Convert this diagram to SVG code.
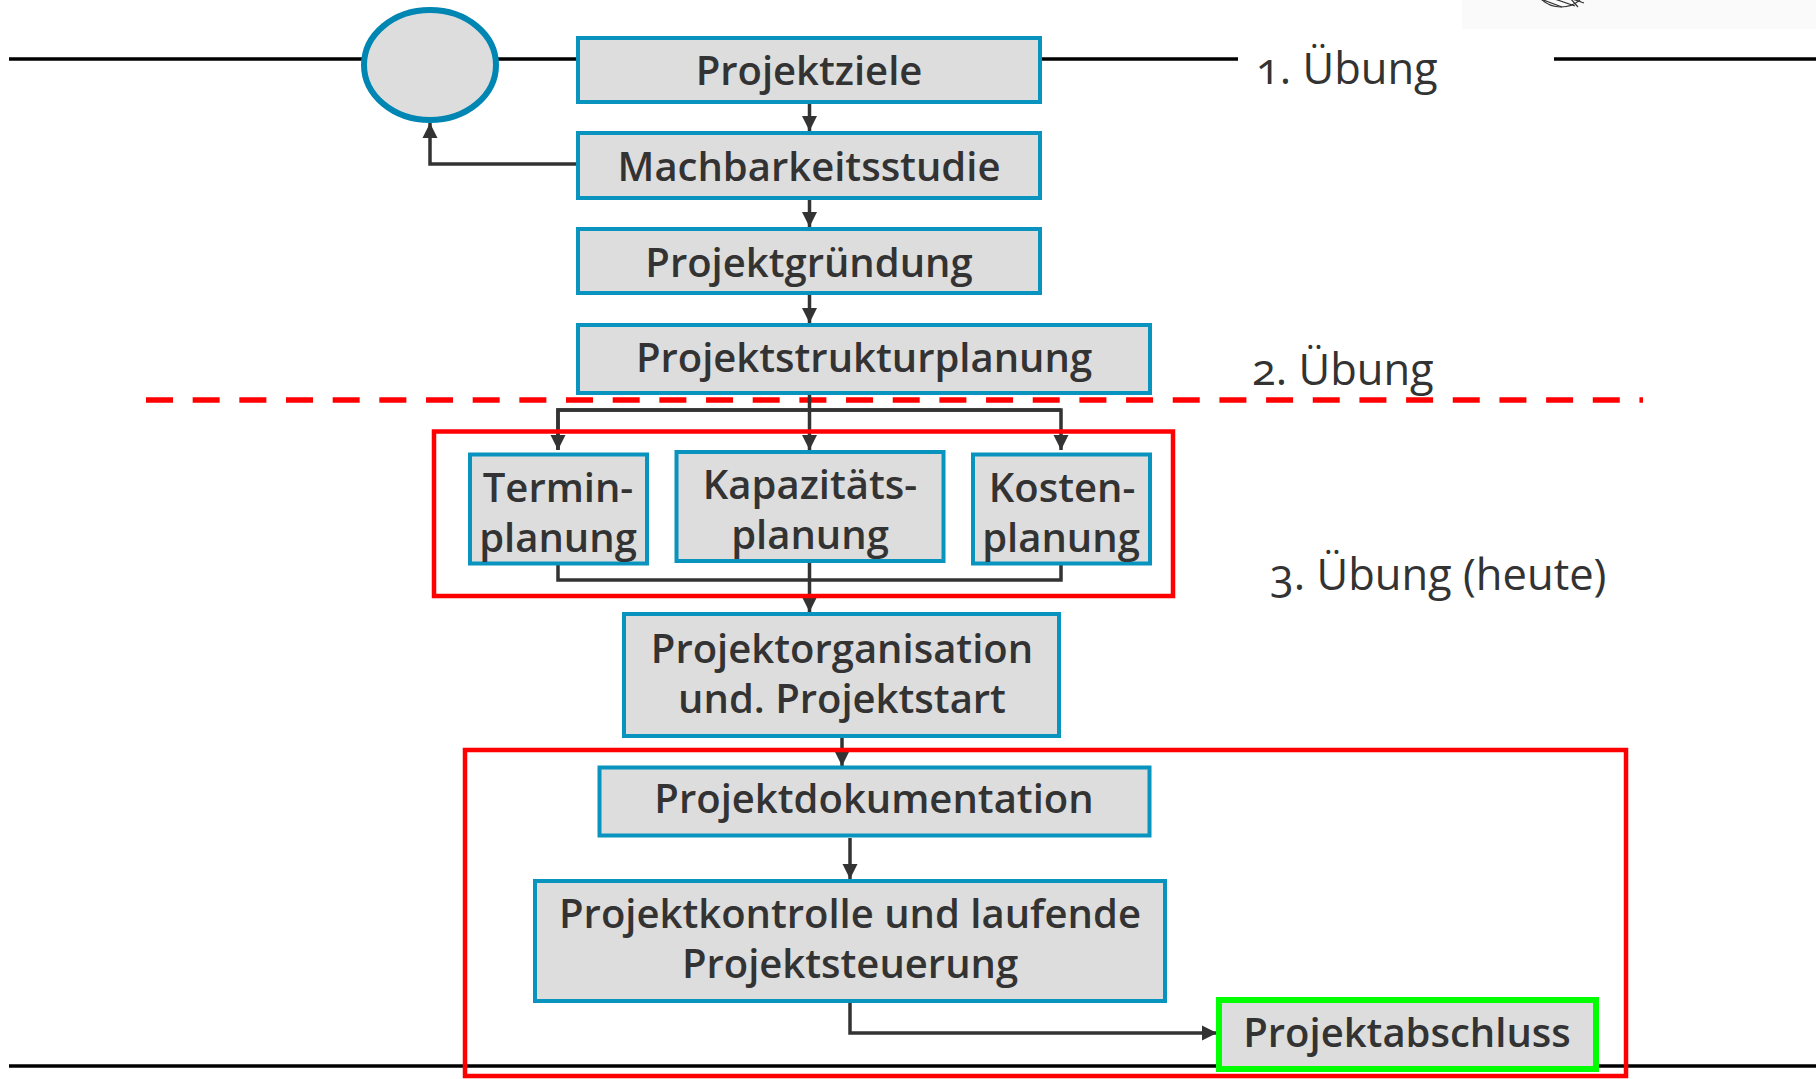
<svg xmlns="http://www.w3.org/2000/svg" width="1816" height="1079" viewBox="0 0 1816 1079">
  <style>
    .node rect { fill: #dddddd; stroke: #0894be; stroke-width: 4; }
    .node text { font-family: "Open Sans", "Noto Sans", "Liberation Sans", sans-serif; font-size: 40px; font-weight: 600; fill: #333333; text-anchor: middle; }
    .label { font-family: "Open Sans", "Noto Sans", "Liberation Sans", sans-serif; font-size: 43.5px; font-weight: 400; fill: #333333; font-variant-numeric: oldstyle-nums; }
    .rule { stroke: #000000; stroke-width: 3.5; fill: none; }
    .conn { stroke: #333333; stroke-width: 3.5; fill: none; }
    .frame { stroke: #ff0000; stroke-width: 4.5; fill: none; }
  </style>
  <defs>
    <marker id="arrow" markerUnits="userSpaceOnUse" markerWidth="16" markerHeight="16" viewBox="0 0 16 16" refX="15" refY="8" orient="auto">
      <path d="M0,0.5 L15,8 L0,15.5 Z" fill="#333333"/>
    </marker>
    <clipPath id="logoClip">
      <rect x="1462" y="0" width="354" height="29"/>
    </clipPath>
  </defs>

  <!-- header strip with the lower rim of the emblem -->
  <g id="header-emblem">
    <rect x="1462" y="0" width="354" height="29" fill="#fafafa"/>
    <g clip-path="url(#logoClip)" stroke="#333333" stroke-width="1.2" fill="none">
      <circle cx="1561" cy="-22" r="29"/>
      <path d="M1538,-2 L1562,7 M1546,-4 L1575,6 M1552,-8 L1584,3 M1570,-2 L1578,7"/>
    </g>
  </g>

  <!-- horizontal rules -->
  <g id="rules">
    <line class="rule" x1="9" y1="59" x2="1238" y2="59"/>
    <line class="rule" x1="1554" y1="59" x2="1816" y2="59"/>
    <line class="rule" x1="9" y1="1066" x2="1816" y2="1066"/>
    <line x1="146" y1="400" x2="1643" y2="400" stroke="#ff0000" stroke-width="5.5" stroke-dasharray="27 19.67"/>
  </g>

  <!-- exercise labels -->
  <g id="labels">
    <text class="label" x="1256" y="84">1. Übung</text>
    <text class="label" x="1252" y="385">2. Übung</text>
    <text class="label" x="1270" y="590">3. Übung (heute)</text>
  </g>

  <!-- connectors -->
  <g id="connectors">
    <line class="conn" x1="809.5" y1="104" x2="809.5" y2="131" marker-end="url(#arrow)"/>
    <line class="conn" x1="809.5" y1="200" x2="809.5" y2="227" marker-end="url(#arrow)"/>
    <line class="conn" x1="809.5" y1="295" x2="809.5" y2="323" marker-end="url(#arrow)"/>
    <path class="conn" d="M576,164 H430 V123" marker-end="url(#arrow)"/>
    <line class="conn" x1="809.5" y1="395" x2="809.5" y2="450" marker-end="url(#arrow)"/>
    <path class="conn" d="M558,450 V410 H1061 V450" marker-end="url(#arrow)"/>
    <path class="conn" d="M1061,410 H558 V450" marker-end="url(#arrow)"/>
    <path class="conn" d="M558,562 V580 H1061 V562"/>
    <line class="conn" x1="809.5" y1="562" x2="809.5" y2="612" marker-end="url(#arrow)"/>
    <line class="conn" x1="842" y1="737" x2="842" y2="766" marker-end="url(#arrow)"/>
    <line class="conn" x1="850" y1="838" x2="850" y2="879" marker-end="url(#arrow)"/>
    <path class="conn" d="M850,1003 V1033 H1217" marker-end="url(#arrow)"/>
  </g>

  <!-- start / feedback ellipse -->
  <g id="start">
    <ellipse cx="430" cy="65" rx="66" ry="55" fill="#dddddd" stroke="#0086b3" stroke-width="6"/>
  </g>

  <g id="projektziele" class="node">
    <rect x="578" y="38" width="462" height="64"/>
    <text x="809" y="85">Projektziele</text>
  </g>
  <g id="machbarkeitsstudie" class="node">
    <rect x="578" y="133" width="462" height="65"/>
    <text x="809" y="181">Machbarkeitsstudie</text>
  </g>
  <g id="projektgruendung" class="node">
    <rect x="578" y="229" width="462" height="64"/>
    <text x="809" y="277">Projektgründung</text>
  </g>
  <g id="projektstrukturplanung" class="node">
    <rect x="578" y="325" width="572" height="68"/>
    <text x="864" y="372">Projektstrukturplanung</text>
  </g>
  <g id="terminplanung" class="node">
    <rect x="470" y="454.5" width="177" height="109"/>
    <text x="558" y="502">Termin-</text>
    <text x="558" y="552">planung</text>
  </g>
  <g id="kapazitaetsplanung" class="node">
    <rect x="676.5" y="452" width="267" height="109"/>
    <text x="810" y="499">Kapazitäts-</text>
    <text x="810" y="549">planung</text>
  </g>
  <g id="kostenplanung" class="node">
    <rect x="973" y="454.5" width="177" height="109"/>
    <text x="1062" y="502">Kosten-</text>
    <text x="1061" y="552">planung</text>
  </g>
  <g id="projektorganisation" class="node">
    <rect x="624" y="614" width="435" height="122"/>
    <text x="842" y="663">Projektorganisation</text>
    <text x="842" y="713">und. Projektstart</text>
  </g>
  <g id="projektdokumentation" class="node">
    <rect x="599.5" y="767.5" width="550" height="68"/>
    <text x="874" y="813">Projektdokumentation</text>
  </g>
  <g id="projektkontrolle" class="node">
    <rect x="535" y="881" width="630" height="120"/>
    <text x="850" y="928">Projektkontrolle und laufende</text>
    <text x="850" y="978">Projektsteuerung</text>
  </g>
  <g id="projektabschluss" class="node">
    <rect x="1219" y="1000" width="377" height="69" style="stroke:#00ff00; stroke-width:6"/>
    <text x="1407" y="1047">Projektabschluss</text>
  </g>

  <!-- red phase frames -->
  <g id="frames">
    <rect class="frame" x="434" y="431.5" width="739" height="164.5"/>
    <rect class="frame" x="465" y="750" width="1161" height="326"/>
  </g>
</svg>
